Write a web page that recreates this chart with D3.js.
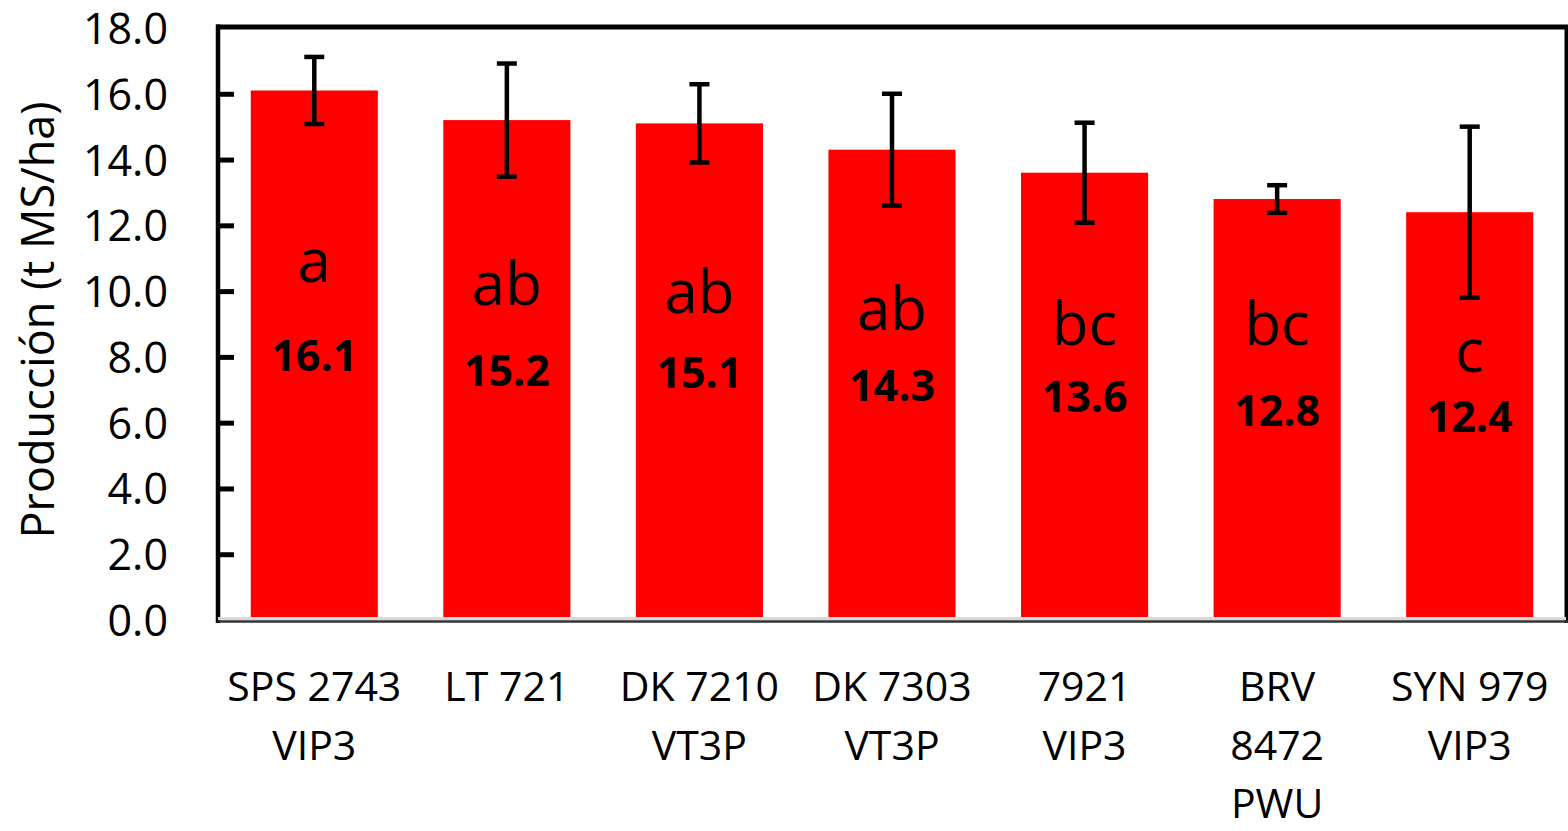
<!DOCTYPE html>
<html>
<head>
<meta charset="utf-8">
<script src="https://cdn.jsdelivr.net/npm/d3@7"></script>
<style>
  html, body { margin: 0; padding: 0; background: #fff; }
  svg { display: block; }
  text { font-family: "Open Sans", "Noto Sans", sans-serif; fill: #000; }
</style>
</head>
<body>
<script>
// ---- data ----
const categories = [
  ["SPS 2743", "VIP3"],
  ["LT 721"],
  ["DK 7210", "VT3P"],
  ["DK 7303", "VT3P"],
  ["7921", "VIP3"],
  ["BRV", "8472", "PWU"],
  ["SYN 979", "VIP3"]
];
const values = [16.1, 15.2, 15.1, 14.3, 13.6, 12.8, 12.4];
const errors = [1.02, 1.72, 1.19, 1.70, 1.52, 0.42, 2.6];
const letters = ["a", "ab", "ab", "ab", "bc", "bc", "c"];
const yTicks = [0, 2, 4, 6, 8, 10, 12, 14, 16, 18];
const yTitle = "Producción (t MS/ha)";

// ---- layout (positions of the significance letters, in axis units) ----
const letterBaseline = [10.27, 9.57, 9.33, 8.81, 8.36, 8.36, 7.54];

const W = 1568, H = 831;
const mLeft = 218, mRight = 1566, mTop = 28, mBottom = 620;

const svg = d3.select("body").append("svg").attr("width", W).attr("height", H);

const x = d3.scaleBand()
  .domain(d3.range(categories.length))
  .range([mLeft, mRight])
  .paddingInner(0.34)
  .paddingOuter(0.17);

const y = d3.scaleLinear().domain([0, 18]).range([mBottom, mTop]);

// bars
svg.append("g").selectAll("rect").data(values).join("rect")
  .attr("x", (d, i) => x(i))
  .attr("width", x.bandwidth())
  .attr("y", d => y(d))
  .attr("height", d => y(0) - y(d))
  .attr("fill", "#ff0000");

// error bars
const eb = svg.append("g").attr("stroke", "#000").attr("stroke-width", 4.5);
values.forEach((v, i) => {
  const cx = x(i) + x.bandwidth() / 2;
  const hi = y(v + errors[i]), lo = y(v - errors[i]);
  eb.append("line").attr("x1", cx).attr("x2", cx).attr("y1", hi).attr("y2", lo);
  eb.append("line").attr("x1", cx - 10).attr("x2", cx + 10).attr("y1", hi).attr("y2", hi);
  eb.append("line").attr("x1", cx - 10).attr("x2", cx + 10).attr("y1", lo).attr("y2", lo);
});

// value labels (centred in bar)
svg.append("g").selectAll("text").data(values).join("text")
  .attr("x", (d, i) => x(i) + x.bandwidth() / 2)
  .attr("y", d => y(d / 2) + 16)
  .attr("text-anchor", "middle")
  .attr("font-size", 43)
  .attr("font-weight", "bold")
  .text(d => d.toFixed(1));

// significance letters
svg.append("g").selectAll("text").data(letters).join("text")
  .attr("x", (d, i) => x(i) + x.bandwidth() / 2)
  .attr("y", (d, i) => y(letterBaseline[i]))
  .attr("text-anchor", "middle")
  .attr("font-size", 60)
  .text(d => d);

// y axis (ticks inward)
const yAxis = d3.axisLeft(y).tickValues(yTicks).tickSize(-16).tickPadding(50)
  .tickFormat(d3.format(".1f"));
const ga = svg.append("g").attr("transform", `translate(${mLeft},0)`).call(yAxis);
ga.select(".domain").remove();
ga.selectAll(".tick line").attr("stroke", "#000").attr("stroke-width", 5)
  .filter(d => d === 0 || d === 18).remove();
ga.selectAll(".tick text")
  .attr("font-size", 43)
  .attr("font-family", "'Open Sans', 'Noto Sans', sans-serif")
  .attr("fill", "#000")
  .attr("dy", "0.36em");

// frame: left, top, right
svg.append("line").attr("x1", mLeft).attr("x2", mLeft).attr("y1", 24.5).attr("y2", 623)
  .attr("stroke", "#000").attr("stroke-width", 4.5);
svg.append("line").attr("x1", mLeft - 2).attr("x2", W).attr("y1", 27).attr("y2", 27)
  .attr("stroke", "#000").attr("stroke-width", 5);
svg.append("line").attr("x1", 1566.5).attr("x2", 1566.5).attr("y1", 25).attr("y2", 623)
  .attr("stroke", "#000").attr("stroke-width", 4);

// bottom axis: light grey + dark line
svg.append("line").attr("x1", mLeft).attr("x2", mRight).attr("y1", 618.5).attr("y2", 618.5)
  .attr("stroke", "#d9d9d9").attr("stroke-width", 3);
svg.append("line").attr("x1", mLeft).attr("x2", mRight + 2).attr("y1", 621.5).attr("y2", 621.5)
  .attr("stroke", "#333").attr("stroke-width", 2.5);

// category labels
const cg = svg.append("g");
categories.forEach((lines, i) => {
  const t = cg.append("text")
    .attr("x", x(i) + x.bandwidth() / 2)
    .attr("y", 701)
    .attr("text-anchor", "middle")
    .attr("font-size", 41);
  lines.forEach((ln, j) => {
    t.append("tspan").attr("x", x(i) + x.bandwidth() / 2).attr("y", 701 + j * 58.5).text(ln);
  });
});

// y title
svg.append("text")
  .attr("transform", `translate(54,${(95 + 545) / 2}) rotate(-90)`)
  .attr("text-anchor", "middle")
  .attr("font-size", 45)
  .text(yTitle);
</script>
</body>
</html>
